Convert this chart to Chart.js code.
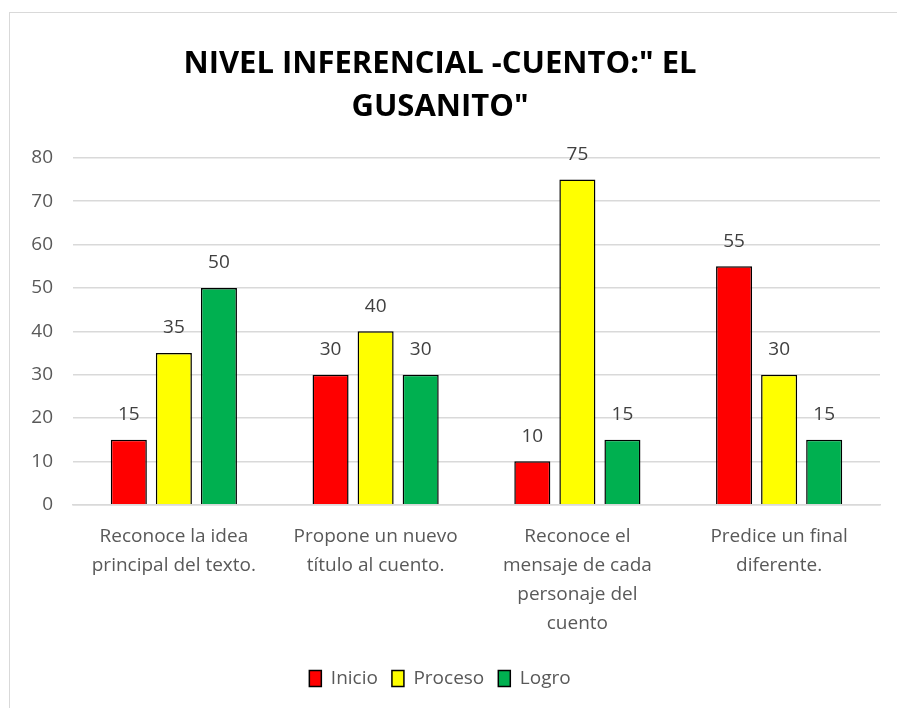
<!DOCTYPE html>
<html>
<head>
<meta charset="utf-8">
<script src="https://cdn.jsdelivr.net/npm/chart.js@4/dist/chart.umd.min.js"></script>
<style>
  html, body { margin: 0; padding: 0; background: #fff; }
  #wrap { position: absolute; left: 0; top: 0; width: 897px; height: 708px; }
  #frame { position: absolute; left: 9px; top: 12px; width: 900px; height: 700px;
    border-left: 1px solid #d9d9d9; border-top: 1px solid #d9d9d9; pointer-events: none; }
</style>
</head>
<body>
<div id="wrap"><canvas id="chart" width="897" height="708"></canvas></div>
<div id="frame"></div>
<script>
var FONT = '"Open Sans", sans-serif';

// Data
var categories = [
  ['Reconoce la idea', 'principal del texto.'],
  ['Propone un nuevo', 'título al cuento.'],
  ['Reconoce el', 'mensaje de cada', 'personaje del', 'cuento'],
  ['Predice un final', 'diferente.']
];
var inicio = [15, 30, 10, 55];
var proceso = [35, 40, 75, 30];
var logro = [50, 30, 15, 15];
var titleLines = ['NIVEL INFERENCIAL -CUENTO:" EL', 'GUSANITO"'];

// labels above the bars
var barLabels = {
  id: 'barLabels',
  afterDatasetsDraw: function(chart) {
    var ctx = chart.ctx;
    ctx.save();
    ctx.font = '19px ' + FONT;
    ctx.fillStyle = '#404040';
    ctx.textAlign = 'center';
    ctx.textBaseline = 'middle';
    chart.data.datasets.forEach(function(ds, i) {
      chart.getDatasetMeta(i).data.forEach(function(bar, j) {
        ctx.fillText(ds.data[j], bar.x, bar.y - 25);
      });
    });
    ctx.restore();
  }
};

var ctx = document.getElementById('chart').getContext('2d');
var chart = new Chart(ctx, {
  type: 'bar',
  data: {
    labels: categories,
    datasets: [{
      label: 'Inicio',
      data: inicio,
      backgroundColor: '#ff0000'
    }, {
      label: 'Proceso',
      data: proceso,
      backgroundColor: '#ffff00'
    }, {
      label: 'Logro',
      data: logro,
      backgroundColor: '#00b050'
    }]
  },
  options: {
    responsive: false,
    animation: false,
    devicePixelRatio: 1,
    layout: {
      padding: { left: 0, right: 17, top: 42, bottom: 10 }
    },
    datasets: {
      bar: {
        borderColor: '#000000',
        borderWidth: 1.5,
        categoryPercentage: 0.67,
        barPercentage: 0.8
      }
    },
    scales: {
      y: {
        min: 0,
        max: 80,
        ticks: {
          stepSize: 10,
          padding: 20,
          color: '#595959',
          font: { family: FONT, size: 19 }
        },
        grid: { color: '#d9d9d9', lineWidth: 1.5, drawTicks: false },
        border: { display: false },
        afterFit: function(scale) { scale.width = 73; }
      },
      x: {
        ticks: {
          color: '#595959',
          padding: 17,
          maxRotation: 0,
          font: { family: FONT, size: 19, lineHeight: 1.53 }
        },
        grid: { display: false, drawTicks: false },
        border: { color: '#d9d9d9', width: 1.5 }
      }
    },
    plugins: {
      title: {
        display: true,
        text: titleLines,
        color: '#000000',
        font: { family: FONT, size: 31, weight: 'bold', lineHeight: 1.4 },
        padding: { top: 0, bottom: 29 }
      },
      legend: {
        position: 'bottom',
        labels: {
          color: '#595959',
          boxWidth: 12,
          boxHeight: 16,
          padding: 14,
          font: { family: FONT, size: 19 }
        }
      },
      tooltip: { enabled: false }
    }
  },
  plugins: [barLabels]
});
</script>
</body>
</html>
